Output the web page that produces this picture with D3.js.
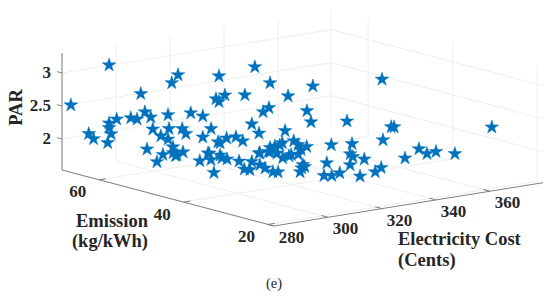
<!DOCTYPE html>
<html>
	<head>
		<meta charset="UTF-8">
		<title>PAR vs cost and emission</title>
		<script src="https://cdn.jsdelivr.net/npm/d3@7"></script>
		<style>
			body{margin:0;background:#fff;}
			text{font-family:"Liberation Serif",serif;font-weight:bold;fill:#262626;}
		</style>
	</head>
	<body>
		<script>
			var cost=[281.1,286.8,283.8,284.5,286.6,287.1,286.8,286.8,287.9,290.0,
				290.9,291.5,292.1,293.0,293.3,292.4,294.4,294.7,295.5,295.7,
				295.5,296.2,296.1,297.0,297.6,298.2,296.0,297.6,298.9,300.7,
				300.7,301.9,303.1,302.6,303.1,303.9,306.9,308.4,310.6,302.9,
				304.2,305.6,306.6,307.9,309.0,309.6,310.5,299.5,299.9,304.3,
				305.6,344.7,326.3,317.1,324.1,325.6,336.9,316.0,369.1,346.7,
				347.3,344.9,327.0,333.9,329.8,329.7,332.5,345.7,352.9,354.0,
				356.7,360.9,316.7,316.6,310.9,318.7,315.8,309.9,313.5,291.7,
				295.5,296.0,299.6,297.3,299.0,299.2,293.1,299.6,297.3,297.5,
				300.4,304.2,300.1,299.5,305.4,309.0,299.3,300.9,296.3,303.2,
				312.3,307.0,310.9,307.3,307.2,311.2,309.8,311.1,307.8,319.4,
				326.0,320.0,316.4,314.0,325.3,331.4,334.7];
			var emission=[67.4,62.0,64.9,64.2,62.2,61.7,62.0,62.0,60.9,58.9,
				58.0,57.5,56.9,56.1,55.8,56.6,54.6,54.3,53.6,53.5,
				53.6,52.9,53.1,52.2,51.6,51.1,51.8,51.4,50.4,48.7,
				48.7,47.5,46.4,46.8,46.4,45.5,42.7,41.3,39.1,46.5,
				45.3,44.0,43.0,41.7,40.7,40.1,39.3,46.7,44.1,37.5,
				35.9,34.4,39.0,39.0,39.0,39.0,37.7,39.0,24.0,33.5,
				33.2,34.3,35.1,34.6,32.4,31.7,30.8,29.6,30.9,29.7,
				29.3,27.5,37.4,36.3,37.0,35.6,35.1,34.2,34.3,53.8,
				51.8,46.4,46.5,44.6,43.1,42.0,41.2,39.4,36.7,35.5,
				36.9,37.6,34.8,33.2,36.2,36.9,31.2,31.0,52.9,46.2,
				37.3,36.8,34.3,34.0,35.3,31.7,31.1,31.2,30.2,31.3,
				30.0,28.6,28.2,28.5,27.2,27.5,28.2];
			var par=[2.53,3.19,2.12,2.05,2.01,2.15,2.31,2.24,2.38,2.42,
				2.41,2.80,2.53,2.46,2.28,1.97,2.19,1.91,2.52,2.31,
				2.15,2.04,3.01,3.14,2.33,2.26,1.94,1.98,2.58,2.55,
				2.23,2.37,3.18,2.83,2.79,2.90,2.93,3.37,3.15,2.18,
				2.25,2.28,2.23,2.50,2.37,2.70,2.77,2.03,2.04,2.16,
				2.19,3.06,3.00,2.91,2.64,2.46,2.42,2.39,2.35,2.34,
				2.34,2.14,2.17,2.15,2.06,2.03,1.99,1.94,2.01,1.95,
				1.97,1.94,2.26,2.22,2.24,2.19,2.17,2.13,2.13,1.83,
				1.93,1.94,2.03,1.98,2.02,2.02,1.87,2.03,1.97,1.98,
				2.06,2.15,2.05,2.03,2.19,2.24,2.01,2.00,1.95,2.17,
				2.26,2.23,2.14,2.12,2.17,2.03,2.00,2.01,1.97,2.01,
				1.96,1.90,1.89,1.90,1.84,1.86,1.89];

			var costTicks=[280,300,320,340,360];
			var emissionTicks=[20,40,60];
			var parTicks=[2,2.5,3];
			var costRange=[280,379.6];
			var emissionRange=[18.6,68.8];
			var parRange=[1.53,3.3];

			var width = 550;
			var height = 297;

			var svg= d3.select("body").append("svg")
					.attr("width",width)
					.attr("height",height)
					.style("display","block");

			// oblique projection of the 3D box, one linear scale per screen direction
			var costX=d3.scaleLinear().domain(costRange).range([0,269]);
			var costY=d3.scaleLinear().domain(costRange).range([0,-43.3]);
			var emisX=d3.scaleLinear().domain(emissionRange).range([0,-212]);
			var emisY=d3.scaleLinear().domain(emissionRange).range([0,-56]);
			var parY=d3.scaleLinear().domain(parRange).range([0,-116.8]);

			function px(c,e){return 274+costX(c)+emisX(e);}
			function py(c,e,z){return 226+costY(c)+emisY(e)+parY(z);}

			function seg(a,b,color,w){
				svg.append("line")
					.attr("x1",px(a[0],a[1])).attr("y1",py(a[0],a[1],a[2]))
					.attr("x2",px(b[0],b[1])).attr("y2",py(b[0],b[1],b[2]))
					.attr("stroke",color)
					.attr("stroke-width",w);
			}

			var cMin=costRange[0],cMax=costRange[1];
			var eMin=emissionRange[0],eMax=emissionRange[1];
			var zMin=parRange[0],zMax=parRange[1];
			var gridColor="#eeeeee",axisColor="#808080";

			// grid: floor and the two back walls
			costTicks.forEach(function(c){
				seg([c,eMin,zMin],[c,eMax,zMin],gridColor,1);
				seg([c,eMax,zMin],[c,eMax,zMax],gridColor,1);
			});
			emissionTicks.forEach(function(e){
				seg([cMin,e,zMin],[cMax,e,zMin],gridColor,1);
				seg([cMax,e,zMin],[cMax,e,zMax],gridColor,1);
			});
			parTicks.forEach(function(z){
				seg([cMin,eMax,z],[cMax,eMax,z],gridColor,1);
				seg([cMax,eMax,z],[cMax,eMin,z],gridColor,1);
			});
			seg([cMax,eMax,zMin],[cMax,eMax,zMax],gridColor,1);

			// axes
			seg([cMin,eMin,zMin],[cMin,eMax,zMin],axisColor,1);
			seg([cMin,eMin,zMin],[cMax,eMin,zMin],axisColor,1);
			seg([cMin,eMax,zMin],[cMin,eMax,zMax],axisColor,1);

			costTicks.forEach(function(c){
				seg([c,eMin,zMin],[c,eMin+1.6,zMin],axisColor,1);
				svg.append("text")
					.attr("x",px(c,eMin)+17.5)
					.attr("y",py(c,eMin,zMin)+17)
					.attr("text-anchor","middle")
					.attr("font-size",17)
					.text(c);
			});
			emissionTicks.forEach(function(e){
				seg([cMin,e,zMin],[cMin+2.5,e,zMin],axisColor,1);
				svg.append("text")
					.attr("x",px(cMin,e)-21.5)
					.attr("y",py(cMin,e,zMin)+17.5)
					.attr("text-anchor","middle")
					.attr("font-size",17)
					.text(e);
			});
			parTicks.forEach(function(z){
				seg([cMin,eMax,z],[cMin,eMax+1.2,z],axisColor,1);
				svg.append("text")
					.attr("x",51)
					.attr("y",py(cMin,eMax,z)+5.5)
					.attr("text-anchor","end")
					.attr("font-size",17)
					.text(z);
			});

			// stars
			var star=d3.symbol().type(d3.symbolStar).size(58);
			svg.selectAll("path.pt")
				.data(cost)
				.enter()
				.append("path")
				.attr("class","pt")
				.attr("d",star)
				.attr("fill","#0072BD")
				.attr("stroke","#0072BD")
				.attr("stroke-width",0.5)
				.attr("transform",function(d,i){
					return "translate("+px(cost[i],emission[i])+","+py(cost[i],emission[i],par[i])+")";
				});

			// axis titles
			svg.append("text").attr("transform","translate(21.5,107.5) rotate(-90)")
				.attr("text-anchor","middle").attr("font-size",18.5).text("PAR");
			svg.append("text").attr("x",112).attr("y",227)
				.attr("text-anchor","middle").attr("font-size",18.5).text("Emission");
			svg.append("text").attr("x",110).attr("y",247)
				.attr("text-anchor","middle").attr("font-size",18.5).text("(kg/kWh)");
			svg.append("text").attr("x",398).attr("y",245)
				.attr("font-size",18.5).text("Electricity Cost");
			svg.append("text").attr("x",398).attr("y",266)
				.attr("font-size",18.5).text("(Cents)");
			svg.append("text").attr("x",274).attr("y",288)
				.attr("text-anchor","middle").attr("font-size",14.5)
				.style("font-weight","normal").text("(e)");
		</script>
	</body>
</html>
